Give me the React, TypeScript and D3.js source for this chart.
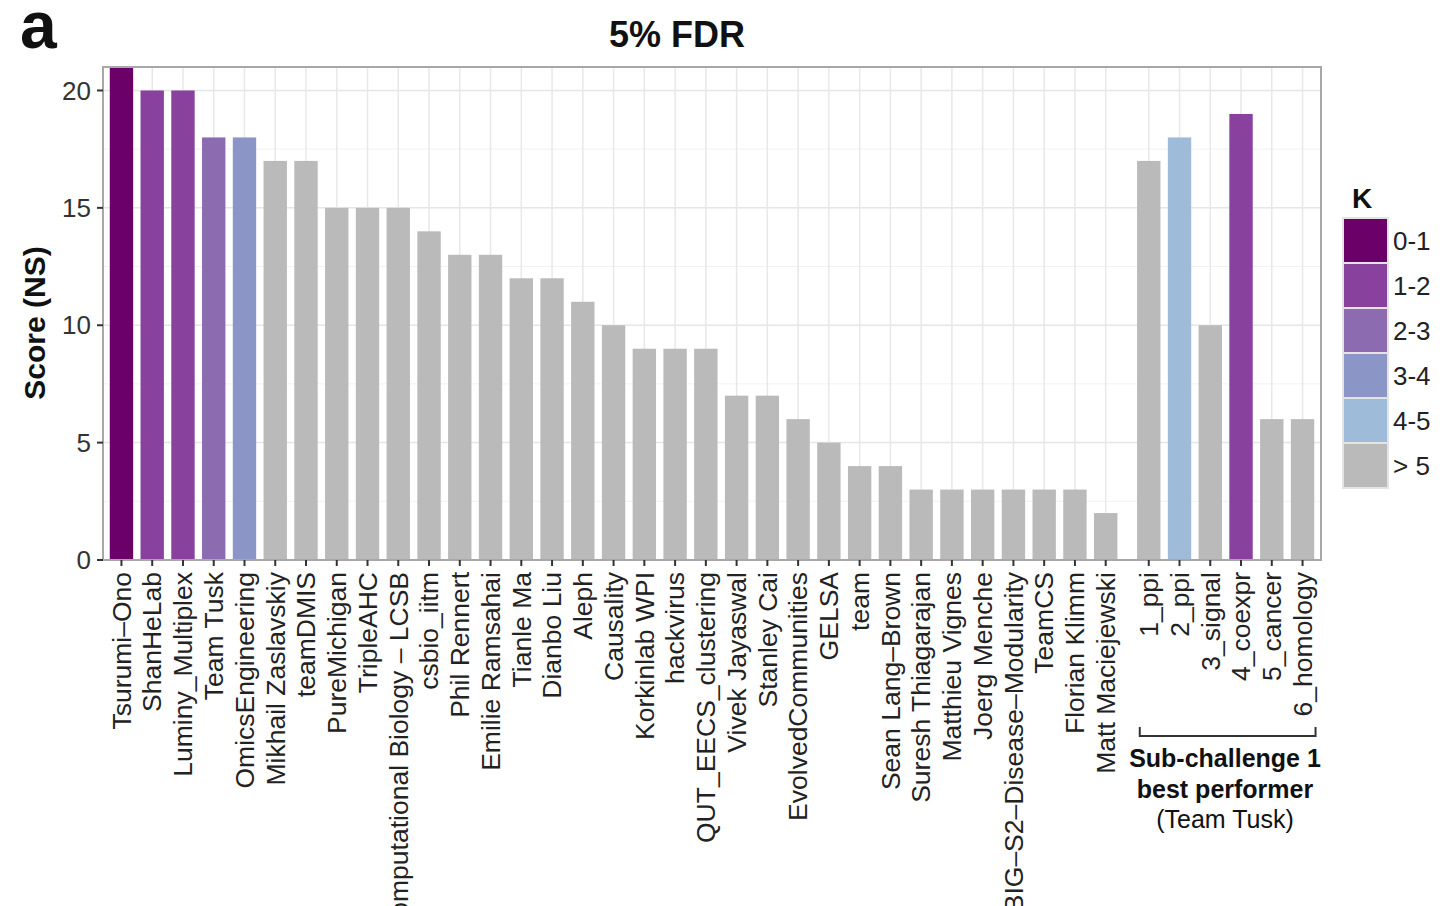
import React from "react";
import * as d3 from "d3";

// Team submissions, in ranked order
const teams = [
  "Tsurumi–Ono", "ShanHeLab", "Luminy_Multiplex", "Team Tusk", "OmicsEngineering",
  "Mikhail Zaslavskiy", "teamDMIS", "PureMichigan", "TripleAHC", "Computational Biology – LCSB",
  "csbio_iitm", "Phil Rennert", "Emilie Ramsahai", "Tianle Ma", "Dianbo Liu",
  "Aleph", "Causality", "Korkinlab WPI", "hackvirus", "QUT_EECS_clustering",
  "Vivek Jayaswal", "Stanley Cai", "EvolvedCommunities", "GELSA", "team",
  "Sean Lang–Brown", "Suresh Thiagarajan", "Matthieu Vignes", "Joerg Menche",
  "BIG–S2–Disease–Modularity", "TeamCS", "Florian Klimm", "Matt Maciejewski",
];
const teamScores = [
  21, 20, 20, 18, 18, 17, 17, 15, 15, 15, 14, 13, 13, 12, 12, 11, 10,
  9, 9, 9, 7, 7, 6, 5, 4, 4, 3, 3, 3, 3, 3, 3, 2,
];
const teamK = [
  "0-1", "1-2", "1-2", "2-3", "3-4", "> 5", "> 5", "> 5", "> 5", "> 5", "> 5",
  "> 5", "> 5", "> 5", "> 5", "> 5", "> 5", "> 5", "> 5", "> 5", "> 5", "> 5",
  "> 5", "> 5", "> 5", "> 5", "> 5", "> 5", "> 5", "> 5", "> 5", "> 5", "> 5",
];

// Sub-challenge 1 best performer, per network
const subNetworks = ["1_ppi", "2_ppi", "3_signal", "4_coexpr", "5_cancer", "6_homology"];
const subScores = [17, 18, 10, 19, 6, 6];
const subK = ["> 5", "4-5", "> 5", "1-2", "> 5", "> 5"];

// K colour legend
const kLevels = ["0-1", "1-2", "2-3", "3-4", "4-5", "> 5"];
const kColors = ["#6a0068", "#88419d", "#8c6bb1", "#8c96c6", "#9ebcda", "#bababa"];

const yTicks = [0, 5, 10, 15, 20];
const yMinor = [2.5, 7.5, 12.5, 17.5];

const FONT = "'Liberation Sans', Arial, Helvetica, sans-serif";
const W = 1444;
const H = 906;
const panel = { left: 103, right: 1321, top: 67, bottom: 560 };
const GROUP_GAP = 1.4; // spacing between last team and first network bar
const BAR_W = 0.76;

export default function App() {
  const bars = [
    ...teams.map((name, i) => ({ name, pos: i, score: teamScores[i], k: teamK[i] })),
    ...subNetworks.map((name, j) => ({
      name,
      pos: teams.length - 1 + GROUP_GAP + j,
      score: subScores[j],
      k: subK[j],
    })),
  ];
  const lastPos = bars[bars.length - 1].pos;

  const x = d3.scaleLinear().domain([-0.6, lastPos + 0.6]).range([panel.left, panel.right]);
  const y = d3.scaleLinear().domain([0, 21]).range([panel.bottom, panel.top]);
  const color = d3.scaleOrdinal<string, string>().domain(kLevels).range(kColors);
  const bw = x(BAR_W) - x(0);

  const subFirst = x(bars[teams.length].pos);
  const subLast = x(lastPos);

  return (
    <svg
      width={W}
      height={H}
      style={{ position: "absolute", left: 0, top: 0, display: "block", background: "#fff" }}
      fontFamily={FONT}
    >
      {/* panel label and title */}
      <text x={20} y={48} fontSize={66} fontWeight="bold" fill="#111">a</text>
      <text x={677} y={47} fontSize={36} fontWeight="bold" textAnchor="middle" fill="#111">
        5% FDR
      </text>

      {/* grid */}
      <g>
        {yMinor.map((v) => (
          <line key={"m" + v} x1={panel.left} x2={panel.right} y1={y(v)} y2={y(v)} stroke="#f2f2f2" strokeWidth={1} />
        ))}
        {yTicks.map((v) => (
          <line key={"g" + v} x1={panel.left} x2={panel.right} y1={y(v)} y2={y(v)} stroke="#e6e6e6" strokeWidth={1.5} />
        ))}
        {bars.map((b) => (
          <line key={"v" + b.name} x1={x(b.pos)} x2={x(b.pos)} y1={panel.top} y2={panel.bottom} stroke="#e8e8e8" strokeWidth={1.5} />
        ))}
      </g>

      {/* bars */}
      <g>
        {bars.map((b) => (
          <rect
            key={"b" + b.name}
            x={x(b.pos) - bw / 2}
            y={y(b.score)}
            width={bw}
            height={y(0) - y(b.score)}
            fill={color(b.k)}
          />
        ))}
      </g>

      {/* panel border */}
      <rect
        x={panel.left}
        y={panel.top}
        width={panel.right - panel.left}
        height={panel.bottom - panel.top}
        fill="none"
        stroke="#a8a8a8"
        strokeWidth={2}
      />

      {/* y axis */}
      <g>
        {yTicks.map((v) => (
          <g key={"yt" + v}>
            <line x1={panel.left - 6} x2={panel.left} y1={y(v)} y2={y(v)} stroke="#333" strokeWidth={2} />
            <text x={panel.left - 12} y={y(v)} dy="0.35em" textAnchor="end" fontSize={26} fill="#333">
              {v}
            </text>
          </g>
        ))}
        <text
          transform={`translate(45,323) rotate(-90)`}
          textAnchor="middle"
          fontSize={30}
          fontWeight="bold"
          fill="#111"
        >
          Score (NS)
        </text>
      </g>

      {/* x axis */}
      <g>
        {bars.map((b) => (
          <g key={"xt" + b.name}>
            <line x1={x(b.pos)} x2={x(b.pos)} y1={panel.bottom} y2={panel.bottom + 6} stroke="#333" strokeWidth={2} />
            <text
              transform={`translate(${x(b.pos)},${panel.bottom + 12}) rotate(-90)`}
              dy="0.35em"
              textAnchor="end"
              fontSize={26.5}
              fill="#222"
            >
              {b.name}
            </text>
          </g>
        ))}
      </g>

      {/* sub-challenge bracket */}
      <path
        d={`M${subFirst - 9},727 V736 H${subLast + 13} V727`}
        fill="none"
        stroke="#333"
        strokeWidth={2}
      />
      <g textAnchor="middle" fill="#111">
        <text x={1225} y={767} fontSize={25} fontWeight="bold">Sub-challenge 1</text>
        <text x={1225} y={798} fontSize={25} fontWeight="bold">best performer</text>
        <text x={1225} y={828} fontSize={25}>(Team Tusk)</text>
      </g>

      {/* legend */}
      <g>
        <text x={1362} y={208} fontSize={28} fontWeight="bold" textAnchor="middle" fill="#111">K</text>
        {kLevels.map((k, i) => (
          <g key={"lg" + k}>
            <rect x={1343} y={218 + i * 45} width={45} height={45} fill={color(k)} stroke="#e4e4e4" strokeWidth={2} />
            <text x={1393} y={218 + i * 45 + 22.5} dy="0.35em" fontSize={26} fill="#222">
              {k}
            </text>
          </g>
        ))}
      </g>
    </svg>
  );
}
